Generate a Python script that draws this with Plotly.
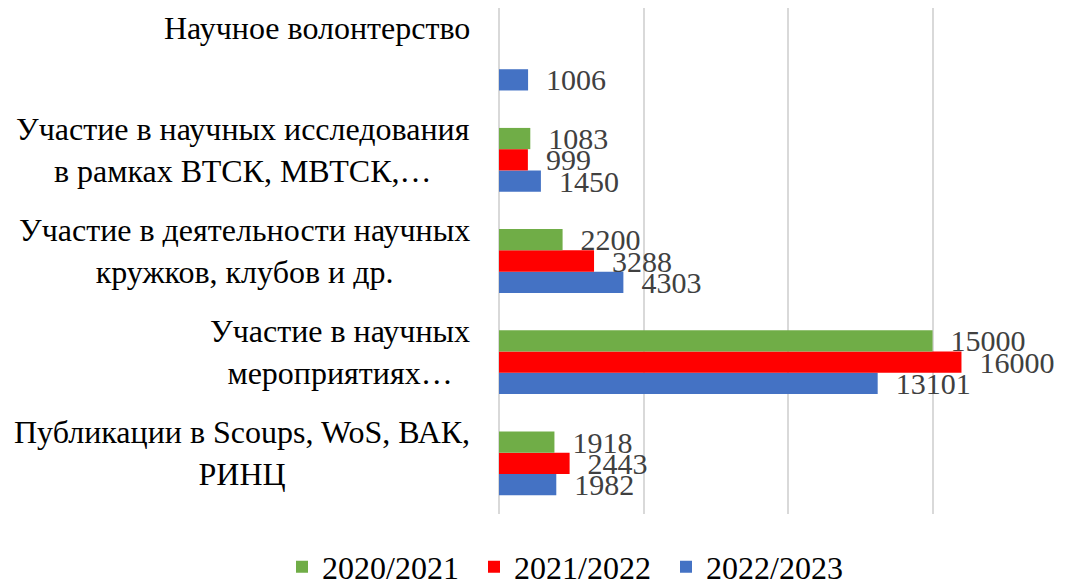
import plotly.graph_objects as go

categories = [
    "Публикации в Scoups, WoS, ВАК,<br>РИНЦ",
    "Участие в научных<br>мероприятиях…",
    "Участие в деятельности научных<br>кружков, клубов и др.",
    "Участие в научных исследования<br>в рамках ВТСК, МВТСК,…",
    "Научное волонтерство<br>\u00a0",
]
series_names = ["2020/2021", "2021/2022", "2022/2023"]
v2020 = [1918, 15000, 2200, 1083, None]
v2021 = [2443, 16000, 3288, 999, None]
v2022 = [1982, 13101, 4303, 1450, 1006]
colors = {"2020/2021": "#70ad47", "2021/2022": "#ff0000", "2022/2023": "#4472c4"}

FONT = "Liberation Serif"
ids = list(range(len(categories)))

fig = go.Figure()
for name, vals in [("2022/2023", v2022), ("2021/2022", v2021), ("2020/2021", v2020)]:
    fig.add_trace(go.Bar(
        y=ids, x=vals, name=name, orientation="h",
        marker=dict(color=colors[name], line=dict(width=0)),
        texttemplate="\u00a0\u00a0%{x:d}", textposition="outside",
        textfont=dict(family=FONT, size=30, color="#404040"),
        constraintext="none",
        cliponaxis=False,
    ))

for i, lab in enumerate(categories):
    fig.add_annotation(
        x=0, y=i, xref="x", yref="y", text=lab, showarrow=False,
        xanchor="right", yanchor="middle", align="center",
        xshift=-27, yshift=10,
        font=dict(family=FONT, size=32, color="#000000"),
    )

# page body has an 8px margin, so the figure is 8px smaller than the window
fig.update_layout(
    width=1061, height=579,
    margin=dict(l=491, r=0, t=0, b=73, autoexpand=False),
    paper_bgcolor="white", plot_bgcolor="white",
    barmode="group", bargap=0.37, bargroupgap=0,
    showlegend=True,
    legend=dict(
        orientation="h", traceorder="reversed",
        xref="paper", yref="paper",
        x=-0.3807, xanchor="left", y=-0.1047, yanchor="middle",
        font=dict(family=FONT, size=32, color="#000000"),
        entrywidth=147, entrywidthmode="pixels",
        bgcolor="rgba(0,0,0,0)",
    ),
    xaxis=dict(range=[0, 19720], showticklabels=False, showgrid=True,
               gridcolor="#d9d9d9", gridwidth=1.5, dtick=5000,
               zeroline=True, zerolinecolor="#d9d9d9", zerolinewidth=1.5,
               showline=False, ticks=""),
    yaxis=dict(range=[-0.5, 4.5], showticklabels=False, showgrid=False,
               zeroline=False, showline=False, ticks=""),
)
fig.write_html("out.html")
